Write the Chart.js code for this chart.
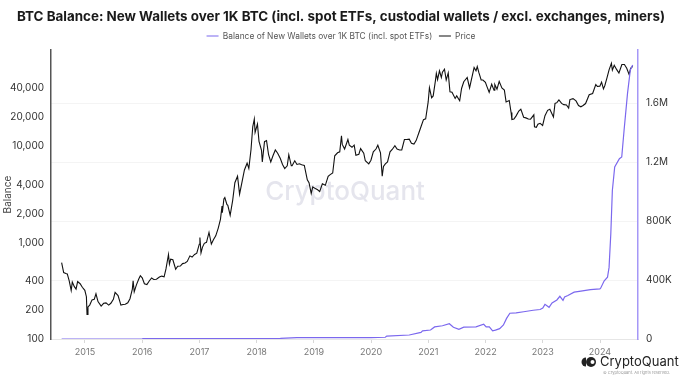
<!DOCTYPE html>
<html>
<head>
<meta charset="utf-8">
<script src="https://cdn.jsdelivr.net/npm/chart.js@4.4.0/dist/chart.umd.min.js"></script>
<style>
html,body{margin:0;padding:0;background:#fff;}
#wrap{width:682px;height:382px;position:relative;}
</style>
</head>
<body>
<div id="wrap"><canvas id="c" width="682" height="382"></canvas></div>
<script>
const chartTitle = 'BTC Balance: New Wallets over 1K BTC (incl. spot ETFs, custodial wallets / excl. exchanges, miners)';
const seriesNames = ['Balance of New Wallets over 1K BTC (incl. spot ETFs)', 'Price'];
const yearTicks = [2015,2016,2017,2018,2019,2020,2021,2022,2023,2024];
const priceTicks = [100,200,400,1000,2000,4000,10000,20000,40000];
const balanceTicks = [0,400000,800000,1200000,1600000];
const balanceTickLabels = ['0','400K','800K','1.2M','1.6M'];

const priceDates = ['2014-08-05','2014-08-18','2014-09-01','2014-09-10','2014-09-22','2014-10-05','2014-10-12','2014-10-25','2014-11-05','2014-11-15','2014-12-01','2014-12-15','2014-12-31',
'2015-01-10','2015-01-14','2015-01-20','2015-01-31','2015-02-15','2015-03-01','2015-03-12','2015-03-25','2015-04-14','2015-04-30','2015-05-15','2015-06-01','2015-06-15','2015-07-01','2015-07-12','2015-07-31','2015-08-18','2015-09-01','2015-09-15','2015-10-01','2015-10-15','2015-10-30','2015-11-04','2015-11-11','2015-11-25','2015-12-10','2015-12-20',
'2016-01-01','2016-01-15','2016-01-31','2016-02-15','2016-03-01','2016-03-15','2016-04-01','2016-04-20','2016-05-05','2016-05-20','2016-06-01','2016-06-17','2016-06-23','2016-07-01','2016-07-15','2016-08-02','2016-08-15','2016-09-01','2016-09-15','2016-10-01','2016-10-15','2016-11-01','2016-11-15','2016-12-01','2016-12-15','2016-12-31',
'2017-01-04','2017-01-11','2017-01-20','2017-02-01','2017-02-15','2017-03-03','2017-03-18','2017-04-01','2017-04-15','2017-05-01','2017-05-15','2017-05-25','2017-05-27','2017-06-06','2017-06-12','2017-06-25','2017-07-01','2017-07-16','2017-08-01','2017-08-15','2017-09-01','2017-09-14','2017-10-01','2017-10-15','2017-11-01','2017-11-12','2017-11-26','2017-12-07','2017-12-17','2017-12-22',
'2018-01-06','2018-01-16','2018-02-01','2018-02-06','2018-02-20','2018-03-05','2018-03-18','2018-04-01','2018-04-15','2018-04-30','2018-05-15','2018-06-01','2018-06-15','2018-06-29','2018-07-15','2018-07-25','2018-08-10','2018-08-15','2018-09-01','2018-09-15','2018-10-01','2018-10-15','2018-11-01','2018-11-20','2018-12-01','2018-12-15','2018-12-25',
'2019-01-10','2019-01-25','2019-02-07','2019-02-24','2019-03-15','2019-04-02','2019-04-15','2019-05-01','2019-05-14','2019-06-01','2019-06-15','2019-06-26','2019-07-01','2019-07-16','2019-08-06','2019-08-15','2019-09-01','2019-09-15','2019-09-26','2019-10-15','2019-10-26','2019-11-15','2019-11-25','2019-12-17','2019-12-31',
'2020-01-15','2020-02-01','2020-02-13','2020-03-01','2020-03-12','2020-03-20','2020-04-01','2020-04-15','2020-05-01','2020-05-15','2020-06-01','2020-06-15','2020-07-01','2020-07-15','2020-08-01','2020-08-15','2020-09-01','2020-09-15','2020-10-01','2020-10-15','2020-11-01','2020-11-15','2020-12-01','2020-12-15','2020-12-31',
'2021-01-08','2021-01-22','2021-02-01','2021-02-15','2021-02-21','2021-03-01','2021-03-13','2021-03-25','2021-04-01','2021-04-14','2021-04-25','2021-05-08','2021-05-19','2021-06-01','2021-06-21','2021-07-01','2021-07-20','2021-08-01','2021-08-15','2021-09-06','2021-09-21','2021-10-01','2021-10-20','2021-11-01','2021-11-09','2021-11-20','2021-12-04','2021-12-15','2021-12-31',
'2022-01-10','2022-01-24','2022-02-09','2022-02-24','2022-03-01','2022-03-15','2022-03-29','2022-04-15','2022-05-01','2022-05-12','2022-06-01','2022-06-13','2022-06-18','2022-07-01','2022-07-15','2022-08-01','2022-08-14','2022-09-01','2022-09-15','2022-10-01','2022-10-15','2022-11-05','2022-11-09','2022-11-21','2022-12-01','2022-12-15','2022-12-31',
'2023-01-15','2023-02-01','2023-02-15','2023-03-10','2023-03-20','2023-04-01','2023-04-14','2023-05-01','2023-05-15','2023-06-01','2023-06-15','2023-06-23','2023-07-13','2023-08-01','2023-08-17','2023-09-01','2023-09-15','2023-10-01','2023-10-24','2023-11-15','2023-12-05','2023-12-15','2023-12-31',
'2024-01-11','2024-01-23','2024-02-01','2024-02-15','2024-02-28','2024-03-14','2024-03-20','2024-04-01','2024-04-15','2024-05-01','2024-05-20','2024-06-05','2024-06-20','2024-07-05','2024-07-15','2024-07-28'];
const priceValues = [620,490,480,475,405,320,390,350,330,395,375,345,320,
275,180,215,225,255,258,295,245,220,235,237,225,235,258,305,283,225,228,230,238,262,330,403,310,365,420,455,
432,375,368,400,430,415,417,440,450,442,535,755,600,675,665,530,570,572,607,615,640,730,710,755,780,965,
1130,785,895,985,1010,1280,970,1080,1180,1420,1750,2400,2050,2850,2950,2500,2450,1930,2750,4200,4900,3200,4400,5700,6700,5900,9300,16000,19300,14000,
17100,11300,9100,6900,11200,11500,8200,6900,8000,9200,8500,7500,6500,5900,6300,8200,6300,6300,7100,6500,6600,6450,6350,4500,4200,3250,3800,
3650,3550,3400,4100,3950,4900,5100,5300,8000,8600,8800,12900,10500,9400,11800,10300,9800,10300,8100,8300,9500,8500,7100,6600,7200,
8800,9400,10300,8600,4900,6200,6600,6900,8800,9300,10200,9400,9200,9200,11800,11800,11900,10800,10600,11500,13800,16000,19000,19400,29000,
40800,32000,33500,48000,57500,49500,61000,52000,59000,63500,49000,58000,37000,36500,31500,33500,29800,40000,47000,52000,40500,48000,66000,61000,67500,58000,49000,49000,46300,
41800,36500,44300,38300,44000,39300,47400,40500,38500,29000,30000,22500,19000,19300,20800,23300,24400,20100,19800,19300,19200,21300,16000,15800,17000,17400,16550,
20900,23700,24300,20200,28000,28500,30400,28000,27200,27000,25100,30700,31400,29700,26600,25800,26600,27900,34500,35500,44000,42000,42300,
46500,39600,43000,51800,62500,73000,62000,69700,63500,58000,71000,71000,64900,56000,64700,68000];

const balanceDates = ['2014-08-05','2015-12-31','2016-01-10','2018-06-01','2018-09-15','2019-12-31','2020-04-01','2020-04-10','2020-09-01','2020-11-15','2020-11-25','2021-01-15','2021-02-10','2021-04-01','2021-05-15','2021-06-10','2021-07-15','2021-08-15','2021-11-01','2021-12-20','2022-01-05','2022-01-25','2022-02-15','2022-03-05','2022-04-01','2022-04-25','2022-05-15','2022-06-05','2022-07-15','2022-09-01','2022-11-01','2022-12-15','2023-01-01','2023-01-15','2023-02-10','2023-03-01','2023-04-01','2023-04-20','2023-05-10','2023-05-20','2023-06-10','2023-07-20','2023-09-01','2023-11-01','2023-12-31','2024-01-05','2024-01-28','2024-02-18','2024-02-28','2024-03-10','2024-03-20','2024-04-04','2024-05-04','2024-05-19','2024-06-03','2024-06-25','2024-07-13','2024-07-28'];
const balanceValues = [0,1000,3000,4000,9000,10000,12000,20000,27000,45000,55000,61000,82000,90000,104000,80000,66000,80000,82000,100000,82000,82000,55000,60000,70000,95000,140000,175000,177000,185000,195000,200000,210000,235000,215000,245000,265000,290000,262000,285000,295000,318000,325000,335000,340000,345000,395000,420000,486000,713000,1008000,1167000,1224000,1235000,1417000,1667000,1826000,1860000];

function toYear(s){
  const p = s.split('-').map(Number);
  const t = Date.UTC(p[0],p[1]-1,p[2]), t0 = Date.UTC(p[0],0,1), t1 = Date.UTC(p[0]+1,0,1);
  return p[0] + (t - t0)/(t1 - t0);
}
const pricePts = priceDates.map((d,i)=>({x:toYear(d), y:priceValues[i]}));
const balPts = balanceDates.map((d,i)=>({x:toYear(d), y:balanceValues[i]}));

const FONT = "Inter, 'Noto Sans', sans-serif";

const watermark = {
  id:'watermark',
  beforeDatasetsDraw(chart){
    const ctx = chart.ctx; ctx.save();
    ctx.font = "500 26px " + FONT;
    ctx.fillStyle = '#e5e5ed';
    ctx.textAlign = 'center'; ctx.textBaseline = 'middle';
    ctx.fillText('CryptoQuant', 345, 192);
    ctx.restore();
  }
};
const logo = {
  id:'logo',
  afterDraw(chart){
    const ctx = chart.ctx; ctx.save();
    ctx.fillStyle = '#222';
    ctx.beginPath(); ctx.arc(591, 362, 5, 0, Math.PI*2); ctx.fill();
    ctx.beginPath(); ctx.arc(586, 362, 4.5, Math.PI/2, Math.PI*1.5); ctx.closePath(); ctx.fill();
    ctx.fillStyle = '#fff';
    ctx.beginPath(); ctx.arc(592.5, 362, 2, 0, Math.PI*2); ctx.fill();
    ctx.fillStyle = '#222';
    ctx.font = "13px " + FONT; ctx.textBaseline = 'middle'; ctx.textAlign='left';
    ctx.fillText('CryptoQuant', 600, 362);
    ctx.fillStyle = '#999';
    ctx.font = "4px " + FONT;
    ctx.fillText('© CryptoQuant. All rights reserved.', 603, 373);
    ctx.restore();
  }
};

new Chart(document.getElementById('c'), {
  type:'line',
  data:{datasets:[
    {label:seriesNames[0], data:balPts, yAxisID:'yb', borderColor:'#7b68ee', backgroundColor:'#7b68ee', borderWidth:1.2, pointRadius:0, pointStyle:'line', tension:0},
    {label:seriesNames[1], data:pricePts, yAxisID:'yp', borderColor:'#111', backgroundColor:'#111', borderWidth:1.1, pointRadius:0, pointStyle:'line', tension:0}
  ]},
  options:{
    responsive:false, animation:false, events:[],
    layout:{padding:0},
    plugins:{
      title:{display:true, text:chartTitle, color:'#1a1a1a', font:{family:FONT, size:13.4, weight:'bold'}, padding:{top:9,bottom:0}},
      legend:{display:true, labels:{usePointStyle:true, pointStyleWidth:12, boxHeight:8.4, color:'#555', font:{family:FONT, size:8.4}, padding:6.7}},
      tooltip:{enabled:false}
    },
    scales:{
      x:{type:'linear', min:2014.406, max:2024.664,
        afterBuildTicks(s){ s.ticks = yearTicks.map(v=>({value:v})); },
        afterFit(s){ s.height = 43; },
        ticks:{callback:v=>String(v), color:'#777', font:{family:FONT, size:9}, padding:4, maxRotation:0, autoSkip:false},
        grid:{display:true, drawOnChartArea:false, drawTicks:true, tickLength:4, color:'#d8d8d8'},
        border:{display:true, color:'#e6e6e6'}
      },
      yp:{type:'logarithmic', position:'left', min:100, max:100000,
        afterBuildTicks(s){ s.ticks = priceTicks.map(v=>({value:v})); },
        afterFit(s){ s.width = 51; },
        ticks:{callback:v=>Number(v).toLocaleString('en-US'), color:'#333', font:{family:FONT, size:10}, padding:7, autoSkip:false},
        grid:{display:false, drawTicks:false},
        border:{display:true, color:'#555', width:1.5},
        title:{display:true, text:'Balance', color:'#444', font:{family:FONT, size:10}, padding:{top:2,bottom:0}}
      },
      yb:{type:'linear', position:'right', min:0, max:1960000,
        afterBuildTicks(s){ s.ticks = balanceTicks.map(v=>({value:v})); },
        afterFit(s){ s.width = 44; },
        ticks:{callback:(v)=>{const i=balanceTicks.indexOf(v); return i>=0?balanceTickLabels[i]:'';}, color:'#333', font:{family:FONT, size:10}, padding:8, autoSkip:false},
        grid:{display:true, drawTicks:false, color:'#f4f4f4'},
        border:{display:true, color:'#a597f7', width:1.5}
      }
    }
  },
  plugins:[watermark, logo]
});
</script>
</body>
</html>
